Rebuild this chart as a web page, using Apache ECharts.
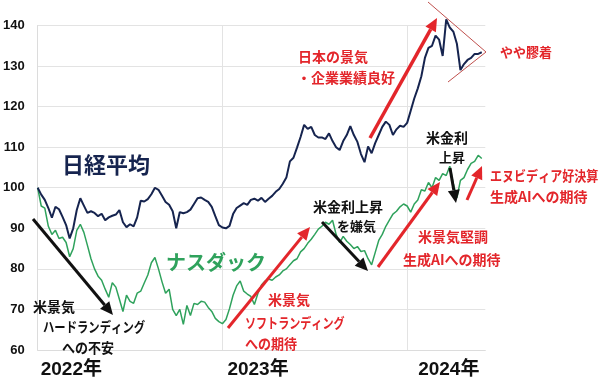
<!DOCTYPE html>
<html><head><meta charset="utf-8">
<script src="https://cdn.jsdelivr.net/npm/echarts@6/dist/echarts.min.js"></script>
<style>html,body{margin:0;padding:0;background:#fff}#c{width:600px;height:379px}</style>
</head><body><div id="c"></div>
<script>
// ---- data ----
const yearLabels = ['2022年', '2023年', '2024年'];
const weeksPerYear = 52;
const yTicks = { min: 60, max: 140, step: 10 };
// weekly index (100 = start of 2022)
const nikkei = [100,98.3,97.0,95.0,92.6,95.3,94.7,92.8,90.8,87.5,90.0,94.5,97.4,95.6,93.8,94.2,93.8,93.0,93.6,92.0,
  92.7,93.1,93.4,94.5,91.5,90.3,91.0,90.5,92.7,96.8,96.6,97.2,98.4,100.0,99.5,98.0,96.5,95.8,94.2,90.0,
  94.0,93.7,94.0,94.6,96.0,97.4,97.6,97.0,96.5,95.3,93.0,90.8,90.2,90.0,90.6,93.5,95.0,95.6,96.2,95.8,
  97.0,97.3,96.8,97.5,96.5,97.3,98.0,99.0,99.7,101.0,102.5,106.5,107.4,109.9,112.5,115.5,114.5,115.0,113.0,112.4,
  112.4,112.0,113.4,111.5,110.0,109.3,111.5,113.0,115.2,113.0,111.3,108.3,106.3,110.2,108.5,111.0,113.0,115.0,116.3,115.5,
  113.0,114.4,115.3,115.0,116.0,119.0,122.0,124.5,127.5,132.0,134.5,135.0,137.5,136.5,132.5,141.5,139.5,138.5,135.5,129.0,
  130.5,131.5,132.0,133.0,133.0,133.4];
const nasdaq = [100,95.5,95.0,90.5,88.5,89.5,87.5,87.8,86.5,83.0,85.0,89.5,91.0,89.0,85.8,82.5,80.0,78.2,77.2,75.0,
  73.0,76.6,75.5,72.5,69.5,73.5,72.0,71.5,74.0,74.5,76.5,78.5,81.5,82.8,80.0,76.8,74.0,75.0,70.0,68.5,
  70.0,66.3,71.0,68.5,71.5,71.2,72.0,71.8,70.5,69.5,67.8,67.0,66.5,67.5,70.2,73.5,75.8,77.0,74.5,73.8,
  73.2,71.2,74.0,76.0,77.0,77.5,77.2,78.0,78.5,79.5,80.0,81.0,82.0,82.5,84.2,85.0,86.3,87.3,88.5,89.8,
  90.5,91.5,91.0,92.0,88.5,86.5,88.0,86.8,86.0,85.0,85.5,84.3,84.5,82.5,81.0,84.0,87.0,88.5,90.5,92.0,
  93.5,94.2,95.3,96.0,95.5,94.0,96.0,97.0,99.5,99.2,101.3,100.0,102.5,101.8,103.5,103.0,105.3,101.0,97.5,101.8,
  102.5,104.5,106.0,106.5,108.0,107.2];
const seriesNames = ['日経平均', 'ナスダック'];
const weeks = Array.from({ length: 127 }, (_, i) => 'W' + i);

// ---- styles ----
const RED = '#e3262b', BLACK = '#111111', NAVY = '#16244f', GREEN = '#2fa25c';
const JP = "'Noto Sans CJK JP', sans-serif";

function arrow(x1, y1, x2, y2, color, w) {
  const a = Math.atan2(y2 - y1, x2 - x1), hl = 13, hw = 6;
  const bx = x2 - hl * Math.cos(a), by = y2 - hl * Math.sin(a);
  return [
    { type: 'line', shape: { x1, y1, x2: bx, y2: by }, style: { stroke: color, lineWidth: w }, z: 10 },
    { type: 'polygon', shape: { points: [[x2, y2], [bx + hw * Math.sin(a), by - hw * Math.cos(a)], [bx - hw * Math.sin(a), by + hw * Math.cos(a)]] },
      style: { fill: color }, z: 10 }
  ];
}
function txt(s, x, y, color, size, sx) {
  return { type: 'text', x, y, z: 11, scaleX: sx || 1,
    style: { text: s, fill: color, font: `bold ${size}px ${JP}`, textAlign: 'left', textVerticalAlign: 'middle' } };
}

const graphics = [].concat(
  txt(seriesNames[0], 62, 165, NAVY, 22),
  txt(seriesNames[1], 166, 262, GREEN, 20),
  arrow(33, 219, 113, 315, BLACK, 3),
  txt('米景気', 33, 307, BLACK, 14),
  txt('ハードランディング', 43, 327, BLACK, 14, 0.81),
  txt('への不安', 62, 348, BLACK, 14, 0.93),
  arrow(228, 328, 310, 227, RED, 3),
  txt('米景気', 268, 300, RED, 14),
  txt('ソフトランディング', 245, 323, RED, 14, 0.79),
  txt('への期待', 245, 344, RED, 14, 0.93),
  arrow(322, 222, 368, 271, BLACK, 3),
  txt('米金利上昇', 313, 207, BLACK, 14),
  txt('を嫌気', 337, 226, BLACK, 13),
  arrow(378, 267, 440, 182, RED, 3),
  txt('米景気堅調', 418, 237, RED, 14),
  txt('生成AIへの期待', 403, 260, RED, 14),
  arrow(450, 168, 456, 203, BLACK, 3),
  txt('米金利', 426, 138, BLACK, 14),
  txt('上昇', 439, 157, BLACK, 13),
  arrow(467, 200, 482, 166, RED, 3),
  txt('エヌビディア好決算', 490, 176, RED, 14, 0.86),
  txt('生成AIへの期待', 490, 197, RED, 14),
  arrow(370, 138, 437, 18, RED, 3.5),
  txt('日本の景気', 298, 57, RED, 14),
  txt('・企業業績良好', 297, 78, RED, 14),
  [{ type: 'line', shape: { x1: 428, y1: 2, x2: 486, y2: 52 }, style: { stroke: '#c0504d', lineWidth: 1 }, z: 10 },
   { type: 'line', shape: { x1: 448, y1: 82, x2: 486, y2: 52 }, style: { stroke: '#c0504d', lineWidth: 1 }, z: 10 }],
  txt('やや膠着', 500, 52, RED, 13)
);

const chart = echarts.init(document.getElementById('c'));
chart.setOption({
  animation: false,
  backgroundColor: '#fff',
  grid: { left: 37, top: 25.5, width: 448.3, height: 326.4, containLabel: false },
  xAxis: {
    type: 'category', data: weeks, boundaryGap: false,
    axisTick: { show: false },
    axisLine: { show: true, lineStyle: { color: '#dcdcdc' } },
    splitLine: { show: true, interval: (i) => i % weeksPerYear === 0, lineStyle: { color: '#e3e3e3' } },
    axisLabel: {
      interval: (i) => i % weeksPerYear === 0,
      formatter: (v, i) => { const k = Math.round(i / weeksPerYear); return `{y${k}|${yearLabels[k]}}`; },
      align: 'left', margin: 10,
      rich: {
        y0: { fontSize: 19, fontWeight: 'bold', color: BLACK, fontFamily: "'Liberation Sans', 'Noto Sans CJK JP'", padding: [0, 0, 0, 3] },
        y1: { fontSize: 19, fontWeight: 'bold', color: BLACK, fontFamily: "'Liberation Sans', 'Noto Sans CJK JP'", padding: [0, 0, 0, 5] },
        y2: { fontSize: 19, fontWeight: 'bold', color: BLACK, fontFamily: "'Liberation Sans', 'Noto Sans CJK JP'", padding: [0, 0, 0, 11] }
      }
    }
  },
  yAxis: {
    type: 'value', min: yTicks.min, max: yTicks.max, interval: yTicks.step,
    axisLine: { show: true, lineStyle: { color: '#dcdcdc' } },
    axisTick: { show: false },
    splitLine: { lineStyle: { color: '#e3e3e3' } },
    axisLabel: { color: BLACK, fontWeight: 'bold', fontSize: 13, margin: 13, fontFamily: "'Liberation Sans', Arial" }
  },
  series: [
    { name: seriesNames[0], type: 'line', data: nikkei, showSymbol: false, clip: false,
      lineStyle: { color: NAVY, width: 2 }, z: 3 },
    { name: seriesNames[1], type: 'line', data: nasdaq, showSymbol: false, clip: false,
      lineStyle: { color: GREEN, width: 1.5 }, z: 2 }
  ],
  graphic: graphics
});
</script>
</body></html>
